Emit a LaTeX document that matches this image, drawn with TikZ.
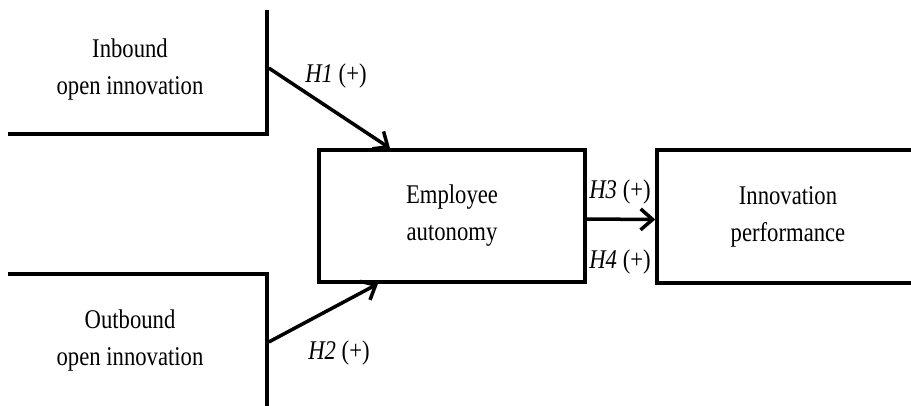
\documentclass[tikz,border=0pt]{standalone}
\usepackage{fontspec}
\newfontfamily\diagfont{Liberation Serif}[FakeStretch=0.84]
\usetikzlibrary{arrows.meta,calc}
\tikzset{
    block/.style = {draw, rectangle, line width=3.5pt, align=center,
        font=\diagfont\fontsize{27}{37}\selectfont},
    arrow/.style = {draw, line width=3.5pt, -{Straight Barb[length=12pt,width=21pt]}},
    hyp/.style = {font=\diagfont\fontsize{27}{32}\selectfont, inner sep=0pt}
}
\begin{document}
\begin{tikzpicture}[x=1pt,y=-1pt]
    \useasboundingbox (0,0) rectangle (911,405);
    \clip (8,10) rectangle (911,405);
    \node[block, minimum width=274pt, minimum height=128pt] (inbound) at (130,70) {Inbound\\open innovation};
    \node[block, minimum width=274pt, minimum height=134pt] (outbound) at (130,341) {Outbound\\open innovation};
    \node[block, minimum width=266pt, minimum height=132pt] (autonomy) at (452,216) {Employee\\autonomy};
    \node[block, minimum width=262pt, minimum height=133pt] (perf) at (788,216.5) {Innovation\\performance};
    \draw[arrow] ([yshift=2pt]inbound.east) -- ([xshift=-62pt]autonomy.north);
    \draw[arrow] ([yshift=-1pt]outbound.east) -- ([xshift=-74pt]autonomy.south);
    \draw[arrow] ([yshift=-3pt]autonomy.east) -- ([yshift=-3pt]perf.west);
    \node[hyp] (h1) at (336,76) {\textit{H1} (+)};
    \node[hyp] (h2) at (339,353) {\textit{H2} (+)};
    \node[hyp] (h3) at (620,192) {\textit{H3} (+)};
    \node[hyp] (h4) at (620,262) {\textit{H4} (+)};
\end{tikzpicture}
\end{document}
